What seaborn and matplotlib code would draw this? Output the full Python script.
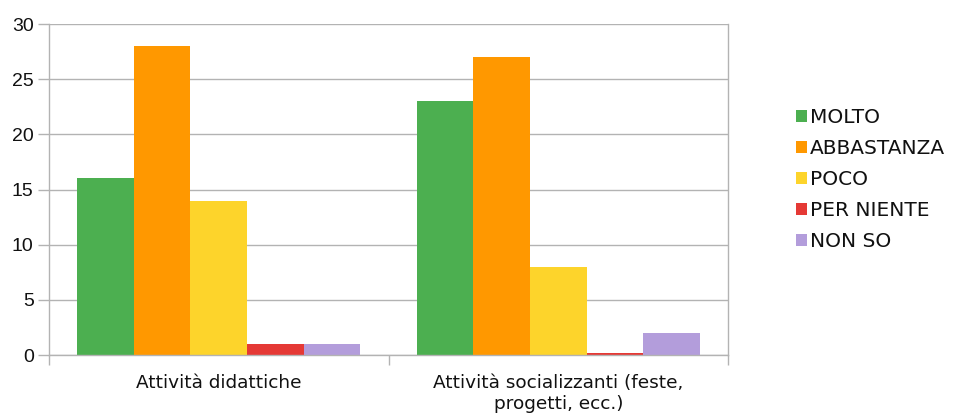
import matplotlib
matplotlib.use("Agg")
import matplotlib.pyplot as plt
import seaborn as sns
import pandas as pd
import numpy as np

categories = ["Attività didattiche", "Attività socializzanti (feste,\nprogetti, ecc.)"]
levels = ["MOLTO", "ABBASTANZA", "POCO", "PER NIENTE", "NON SO"]
molto = [16, 23]
abbastanza = [28, 27]
poco = [14, 8]
per_niente = [1, 0.15]
non_so = [1, 2]
colors = ["#4CAF50", "#FF9800", "#FDD42B", "#E53935", "#B39DDB"]

sns.set_theme(style="white")
plt.rcParams['font.family'] = ['DejaVu Sans']

rows = []
for lev, vals in zip(levels, [molto, abbastanza, poco, per_niente, non_so]):
    for cat, v in zip(categories, vals):
        rows.append({"categoria": cat, "livello": lev, "valore": v})
df = pd.DataFrame(rows)

fig = plt.figure(figsize=(9.56, 4.17), dpi=100)
ax = fig.add_axes([49 / 956, 1 - 355 / 417, (728 - 49) / 956, (355 - 24) / 417])

sns.barplot(data=df, x="categoria", y="valore", hue="livello", hue_order=levels,
            palette=colors, width=0.834, gap=0, saturation=1, ax=ax,
            errorbar=None, linewidth=0)

ax.set_ylim(0, 30)
ax.set_xlim(-0.5, 1.5)
ax.set_yticks(np.arange(0, 31, 5))
ax.yaxis.grid(True, color="#b3b3b3", linewidth=1)
ax.set_axisbelow(True)
ax.set_xlabel("")
ax.set_ylabel("")

for side in ["left", "bottom", "right"]:
    ax.spines[side].set_color("#b3b3b3")
    ax.spines[side].set_linewidth(1)
ax.spines["top"].set_visible(False)

ax.tick_params(axis="y", length=8, color="#b3b3b3", width=1, labelsize=14,
               labelcolor="#111111", pad=3, left=True)
for lab in ax.get_yticklabels():
    lab.set_family("Liberation Sans")
ax.tick_params(axis="x", length=0, labelsize=13.3, labelcolor="#111111", pad=14)
ax.set_xticks([-0.5, 0.5, 1.5], minor=True)
ax.tick_params(axis="x", which="minor", length=7, color="#b3b3b3", width=1, bottom=True)

handles, labels = ax.get_legend_handles_labels()
ax.legend(handles, labels, loc="center left", bbox_to_anchor=(1.074, 0.53),
          frameon=False, fontsize=14.5, handlelength=0.55, handleheight=0.55,
          handletextpad=0.12, labelspacing=0.59, labelcolor="#111111")

plt.savefig("out.png", dpi=100)
plt.close()
